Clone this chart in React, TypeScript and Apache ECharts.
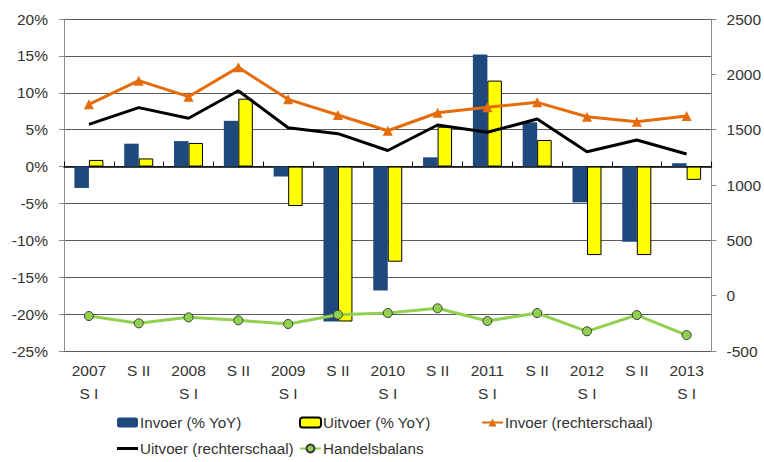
import React, { useEffect, useRef } from "react";
import * as echarts from "echarts";

const categories = ["2007\nS I", "S II", "2008\nS I", "S II", "2009\nS I", "S II", "2010\nS I", "S II", "2011\nS I", "S II", "2012\nS I", "S II", "2013\nS I"];
const invoerYoY = [-2.9, 3.1, 3.45, 6.2, -1.35, -21, -16.8, 1.25, 15.2, 6.0, -4.85, -10.2, 0.45];
const uitvoerYoY = [0.9, 1.1, 3.2, 9.2, -5.35, -21, -12.9, 5.4, 11.65, 3.6, -12.0, -12.0, -1.8];
const invoerAbs = [1729, 1943, 1798, 2063, 1774, 1633, 1490, 1653, 1702, 1747, 1617, 1572, 1624];
const uitvoerAbs = [1548, 1699, 1603, 1852, 1518, 1464, 1312, 1542, 1476, 1596, 1301, 1407, 1280];
const handelsbalans = [-184, -250, -196, -223, -256, -172, -157, -114, -229, -157, -322, -175, -356];
const leftTicks = { min: -25, max: 20, interval: 5 };
const rightTicks = { min: -500, max: 2500, interval: 500 };

const FONT = '"Liberation Sans", Arial, sans-serif';
const TXT = "#333333";
const FS = 15.5;
const LINE_ICON = "path://M0,0 L0,0 M0,3.5 L21,3.5 L21,6.5 L0,6.5 Z M21,10 L21,10";

export default function App() {
  const ref = useRef<HTMLDivElement>(null);
  useEffect(() => {
    if (!ref.current) return;
    const chart = echarts.init(ref.current, null, { renderer: "svg" });
    const legendText = { fontFamily: FONT, fontSize: 15.2, color: TXT, padding: [0, 0, 0, -3] };
    const mkLegend = (item: any, left: number, top: number) => ({
      data: [item],
      left,
      top,
      padding: 0,
      itemWidth: 21,
      itemHeight: 10,
      textStyle: legendText,
      selectedMode: false,
    });
    chart.setOption({
      animation: false,
      textStyle: { fontFamily: FONT },
      grid: { left: 64, right: 52, top: 19, bottom: 111 },
      legend: [
        mkLegend("Invoer (% YoY)", 117, 415),
        mkLegend("Uitvoer (% YoY)", 299, 415),
        mkLegend("Invoer (rechterschaal)", 481, 415),
        mkLegend({ name: "Uitvoer (rechterschaal)", icon: LINE_ICON, itemStyle: { color: "#000" } }, 117, 441),
        mkLegend("Handelsbalans", 299, 441),
      ],
      xAxis: [
        {
          type: "category",
          data: categories,
          position: "bottom",
          axisLine: { show: false, onZero: false },
          axisTick: { show: false },
          axisLabel: { fontFamily: FONT, fontSize: FS, color: TXT, margin: 8, lineHeight: 23, interval: 0 },
          splitLine: { show: false },
        },
        {
          type: "category",
          data: categories,
          position: "top",
          axisLine: { show: true, onZero: true, onZeroAxisIndex: 0, lineStyle: { color: "#000", width: 1.5 } },
          axisTick: { show: true, inside: false, length: 5, interval: 0, lineStyle: { color: "#000" } },
          axisLabel: { show: false },
          splitLine: { show: false },
        },
      ],
      yAxis: [
        {
          type: "value",
          ...leftTicks,
          position: "left",
          axisLine: { show: true, lineStyle: { color: "#8c8c8c" } },
          axisTick: { show: true, length: 5, lineStyle: { color: "#8c8c8c" } },
          axisLabel: { formatter: "{value}%", fontFamily: FONT, fontSize: FS, color: TXT, margin: 16 },
          splitLine: { show: true, lineStyle: { color: "#595959", width: 1 } },
        },
        {
          type: "value",
          ...rightTicks,
          position: "right",
          axisLine: { show: true, lineStyle: { color: "#8c8c8c" } },
          axisTick: { show: true, length: 5, lineStyle: { color: "#8c8c8c" } },
          axisLabel: { formatter: (v: number) => String(v), fontFamily: FONT, fontSize: FS, color: TXT, margin: 15 },
          splitLine: { show: false },
        },
      ],
      series: [
        {
          name: "Invoer (% YoY)",
          type: "bar",
          data: invoerYoY,
          yAxisIndex: 0,
          barWidth: 14.5,
          barGap: "0%",
          itemStyle: { color: "#1F497D" },
        },
        {
          name: "Uitvoer (% YoY)",
          type: "bar",
          data: uitvoerYoY,
          yAxisIndex: 0,
          barWidth: 14.5,
          barGap: "0%",
          itemStyle: { color: "#FFFF00", borderColor: "#000", borderWidth: 1 },
        },
        {
          name: "Invoer (rechterschaal)",
          type: "line",
          data: invoerAbs,
          yAxisIndex: 1,
          symbol: "triangle",
          symbolSize: 10,
          lineStyle: { color: "#E46C0A", width: 3 },
          itemStyle: { color: "#E46C0A" },
          z: 3,
        },
        {
          name: "Uitvoer (rechterschaal)",
          type: "line",
          data: uitvoerAbs,
          yAxisIndex: 1,
          symbol: "none",
          lineStyle: { color: "#000000", width: 3 },
          itemStyle: { color: "#000000" },
          z: 3,
        },
        {
          name: "Handelsbalans",
          type: "line",
          data: handelsbalans,
          yAxisIndex: 1,
          symbol: "circle",
          symbolSize: 9,
          lineStyle: { color: "#92D050", width: 3 },
          itemStyle: { color: "#92D050", borderColor: "#3a3a3a", borderWidth: 1 },
          z: 3,
        },
      ],
    });
    return () => chart.dispose();
  }, []);
  return <div ref={ref} style={{ position: "absolute", left: 0, top: 0, width: 764, height: 462 }} />;
}
